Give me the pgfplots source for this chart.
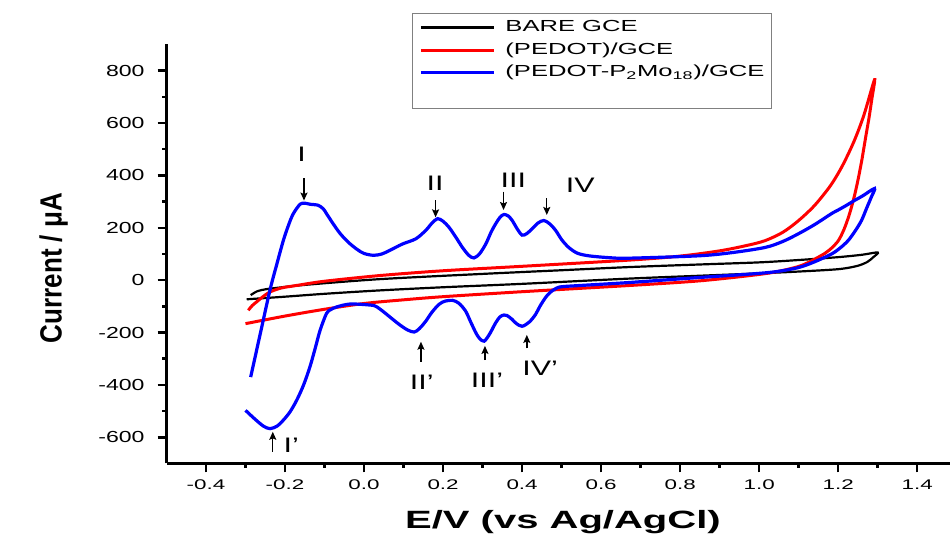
\documentclass[border=0pt]{standalone}
\usepackage{fontspec}
\setmainfont{Liberation Sans}
\usepackage{pgfplots}
\pgfplotsset{compat=1.18}
\usetikzlibrary{arrows.meta}
\newcommand{\sx}[1]{\scalebox{1.6}[1]{#1}}
\newcommand{\sy}[1]{\scalebox{1.44}[1]{#1}}
\newcommand{\sa}[1]{\scalebox{1.45}[1]{#1}}
\definecolor{cvred}{RGB}{255,0,0}
\definecolor{cvblue}{RGB}{0,0,255}
\tikzset{pk/.style={-{Stealth[length=8pt,width=7pt,inset=1.5pt]}, line width=1.4pt, black},
  pl/.style={font=\fontsize{21}{24}\selectfont}}
\begin{document}
\begin{tikzpicture}
\path[use as bounding box] (0,0) rectangle (950pt,534pt);
\begin{axis}[
  at={(166.5pt,70.5pt)}, anchor=south west,
  scale only axis, width=783.5pt, height=419pt,
  xmin=-0.5, xmax=1.483, ymin=-700, ymax=900,
  axis x line*=bottom, axis y line*=left,
  axis line style={line width=3pt, black},
  xtick={-0.4,-0.2,0,0.2,0.4,0.6,0.8,1.0,1.2,1.4},
  xticklabels={\sx{-0.4},\sx{-0.2},\sx{0.0},\sx{0.2},\sx{0.4},\sx{0.6},\sx{0.8},\sx{1.0},\sx{1.2},\sx{1.4}},
  ytick={-600,-400,-200,0,200,400,600,800},
  yticklabels={\sy{-600},\sy{-400},\sy{-200},\sy{0},\sy{200},\sy{400},\sy{600},\sy{800}},
  minor x tick num=1, minor y tick num=1,
  tick align=outside,
  major tick length=9pt, minor tick length=4.5pt,
  every tick/.style={black, line width=2.5pt},
  xticklabel style={font=\fontsize{14}{16}\selectfont, yshift=-3.5pt},
  yticklabel style={font=\fontsize{16}{18}\selectfont, xshift=-9.5pt},
  xlabel={\sx{E/V (vs Ag/AgCl)}},
  xlabel style={font=\fontsize{25}{30}\selectfont\bfseries, at={(axis description cs:0.506,0)}, anchor=base, yshift=-65.5pt},
  ylabel={\scalebox{1}[1.18]{Current / μA}},
  ylabel style={font=\fontsize{26}{30}\selectfont\bfseries, at={(axis description cs:-0.1338,0.4666)}, anchor=base},
  legend cell align=left,
  legend style={at={(axis description cs:0.313,1.0745)}, anchor=north west,
    draw=gray, line width=1pt, font=\fontsize{16}{19}\selectfont,
    inner xsep=7pt, inner ysep=4pt, row sep=3pt, column sep=10pt,
    nodes={text height=12pt, text depth=3.5pt, inner ysep=2pt, inner xsep=0pt}},
  legend image code/.code={\path (0pt,0pt) -- (73pt,0pt); \draw[#1, line width=3pt] (13pt,0pt) -- (73pt,0pt);},
  clip=false,
]
% BARE GCE
\addplot[black, line width=2.2pt, smooth] coordinates {
(-0.287,-57) (-0.27,-42) (-0.25,-35) (-0.23,-31) (-0.15,-18) (0.04,4) (0.3,24) (0.5,38)
(0.67,50) (0.85,60) (1.0,68) (1.1,77) (1.2,88) (1.26,97) (1.30,106)
(1.289,88) (1.273,69) (1.247,54) (1.2,42) (1.1,33) (1.0,26) (0.85,17) (0.67,6) (0.4,-14) (0.2,-27)
(0.04,-39) (-0.1,-52) (-0.2,-63) (-0.297,-73)
};
\addlegendentry{\sx{BARE GCE}}
% PEDOT/GCE
\addplot[cvred, line width=3pt, smooth] coordinates {
(-0.293,-115) (-0.283,-97) (-0.272,-83) (-0.255,-62) (-0.238,-45) (-0.21,-30) (-0.17,-20) (-0.1,-4)
(0.042,18) (0.2,36) (0.4,53) (0.675,77) (0.8,92) (0.9,112) (0.97,133) (1.015,151) (1.06,183)
(1.1,228) (1.14,285) (1.18,360) (1.21,435) (1.24,530) (1.265,630) (1.292,766)
(1.285,690) (1.278,620) (1.27,550) (1.26,460) (1.25,382) (1.24,315) (1.228,250) (1.215,195)
(1.2,150) (1.18,118) (1.166,102) (1.13,72) (1.099,52) (1.04,31) (0.973,17) (0.846,-3) (0.675,-20)
(0.4,-44) (0.2,-63) (0.1,-75) (0.0,-89) (-0.1,-111) (-0.2,-137) (-0.3,-166)
};
\addlegendentry{\sx{(PEDOT)/GCE}}
% PEDOT-P2Mo18/GCE
\addplot[cvblue, line width=3.2pt, smooth] coordinates {
(-0.287,-370) (-0.262,-200) (-0.238,-37) (-0.221,60) (-0.204,153) (-0.19,215) (-0.179,254)
(-0.162,290) (-0.15,294) (-0.137,290) (-0.116,286) (-0.103,272) (-0.095,254) (-0.078,215)
(-0.061,179) (-0.04,145) (-0.018,118) (0.0,102) (0.024,95) (0.045,100) (0.064,113) (0.097,138)
(0.131,158) (0.156,190) (0.172,218) (0.186,235) (0.2,225) (0.215,202) (0.232,165) (0.249,125)
(0.265,95) (0.278,85) (0.292,100) (0.308,138) (0.322,185) (0.333,215) (0.344,240) (0.354,251)
(0.365,245) (0.375,228) (0.388,195) (0.40,172) (0.412,178) (0.425,196) (0.44,218) (0.455,228)
(0.47,215) (0.485,190) (0.5,155) (0.518,125) (0.54,103) (0.569,93) (0.62,86) (0.67,84)
(0.846,93) (0.93,105) (1.015,125) (1.06,148) (1.099,177) (1.14,212) (1.183,254) (1.2,268)
(1.22,285) (1.242,305) (1.262,322) (1.292,350)
(1.284,318) (1.272,275) (1.259,228) (1.243,188) (1.225,151) (1.205,123) (1.183,100) (1.14,70)
(1.099,48) (1.04,32) (0.973,23) (0.846,10) (0.67,-9)
(0.55,-20) (0.5,-25) (0.485,-32) (0.47,-48) (0.459,-67) (0.445,-100) (0.434,-131) (0.418,-160)
(0.40,-176) (0.385,-165) (0.375,-150) (0.362,-135) (0.354,-133) (0.344,-140) (0.333,-163)
(0.318,-205) (0.304,-233) (0.292,-222) (0.283,-201) (0.27,-160) (0.257,-118) (0.24,-88)
(0.224,-77) (0.205,-80) (0.19,-92) (0.172,-122) (0.156,-157) (0.14,-185) (0.127,-198)
(0.11,-190) (0.089,-169) (0.065,-140) (0.047,-118) (0.03,-100) (0.016,-95) (-0.035,-91)
(-0.069,-102) (-0.085,-113) (-0.095,-127) (-0.111,-190) (-0.124,-262) (-0.137,-331)
(-0.153,-400) (-0.17,-457) (-0.187,-502) (-0.204,-534) (-0.22,-557) (-0.238,-567)
(-0.255,-557) (-0.278,-528) (-0.3,-497)
};
\addlegendentry{\sx{(PEDOT-P\textsubscript{2}Mo\textsubscript{18})/GCE}}
\addlegendimage{empty legend}
\addlegendentry{}
% annotations
\node[pl] at (axis cs:-0.158,482) {\sa{I}};
\draw[pk] (axis cs:-0.152,389) -- (axis cs:-0.152,304);
\node[pl] at (axis cs:0.180,370) {\sa{II}};
\draw[pk] (axis cs:0.181,306) -- (axis cs:0.181,240);
\node[pl] at (axis cs:0.378,383) {\sa{III}};
\draw[pk] (axis cs:0.353,338) -- (axis cs:0.353,268);
\node[pl] at (axis cs:0.547,364) {\sa{IV}};
\draw[pk] (axis cs:0.4625,313) -- (axis cs:0.4625,249);
\node[pl] at (axis cs:-0.184,-629) {\sa{I'}};
\draw[pk] (axis cs:-0.231,-655) -- (axis cs:-0.231,-579);
\node[pl] at (axis cs:0.146,-388) {\sa{II'}};
\draw[pk] (axis cs:0.144,-311) -- (axis cs:0.144,-235);
\node[pl] at (axis cs:0.311,-381) {\sa{III'}};
\draw[pk] (axis cs:0.306,-305) -- (axis cs:0.306,-251);
\node[pl] at (axis cs:0.4456,-336) {\sa{IV'}};
\draw[pk] (axis cs:0.412,-260) -- (axis cs:0.412,-209);
\end{axis}
\end{tikzpicture}
\end{document}
